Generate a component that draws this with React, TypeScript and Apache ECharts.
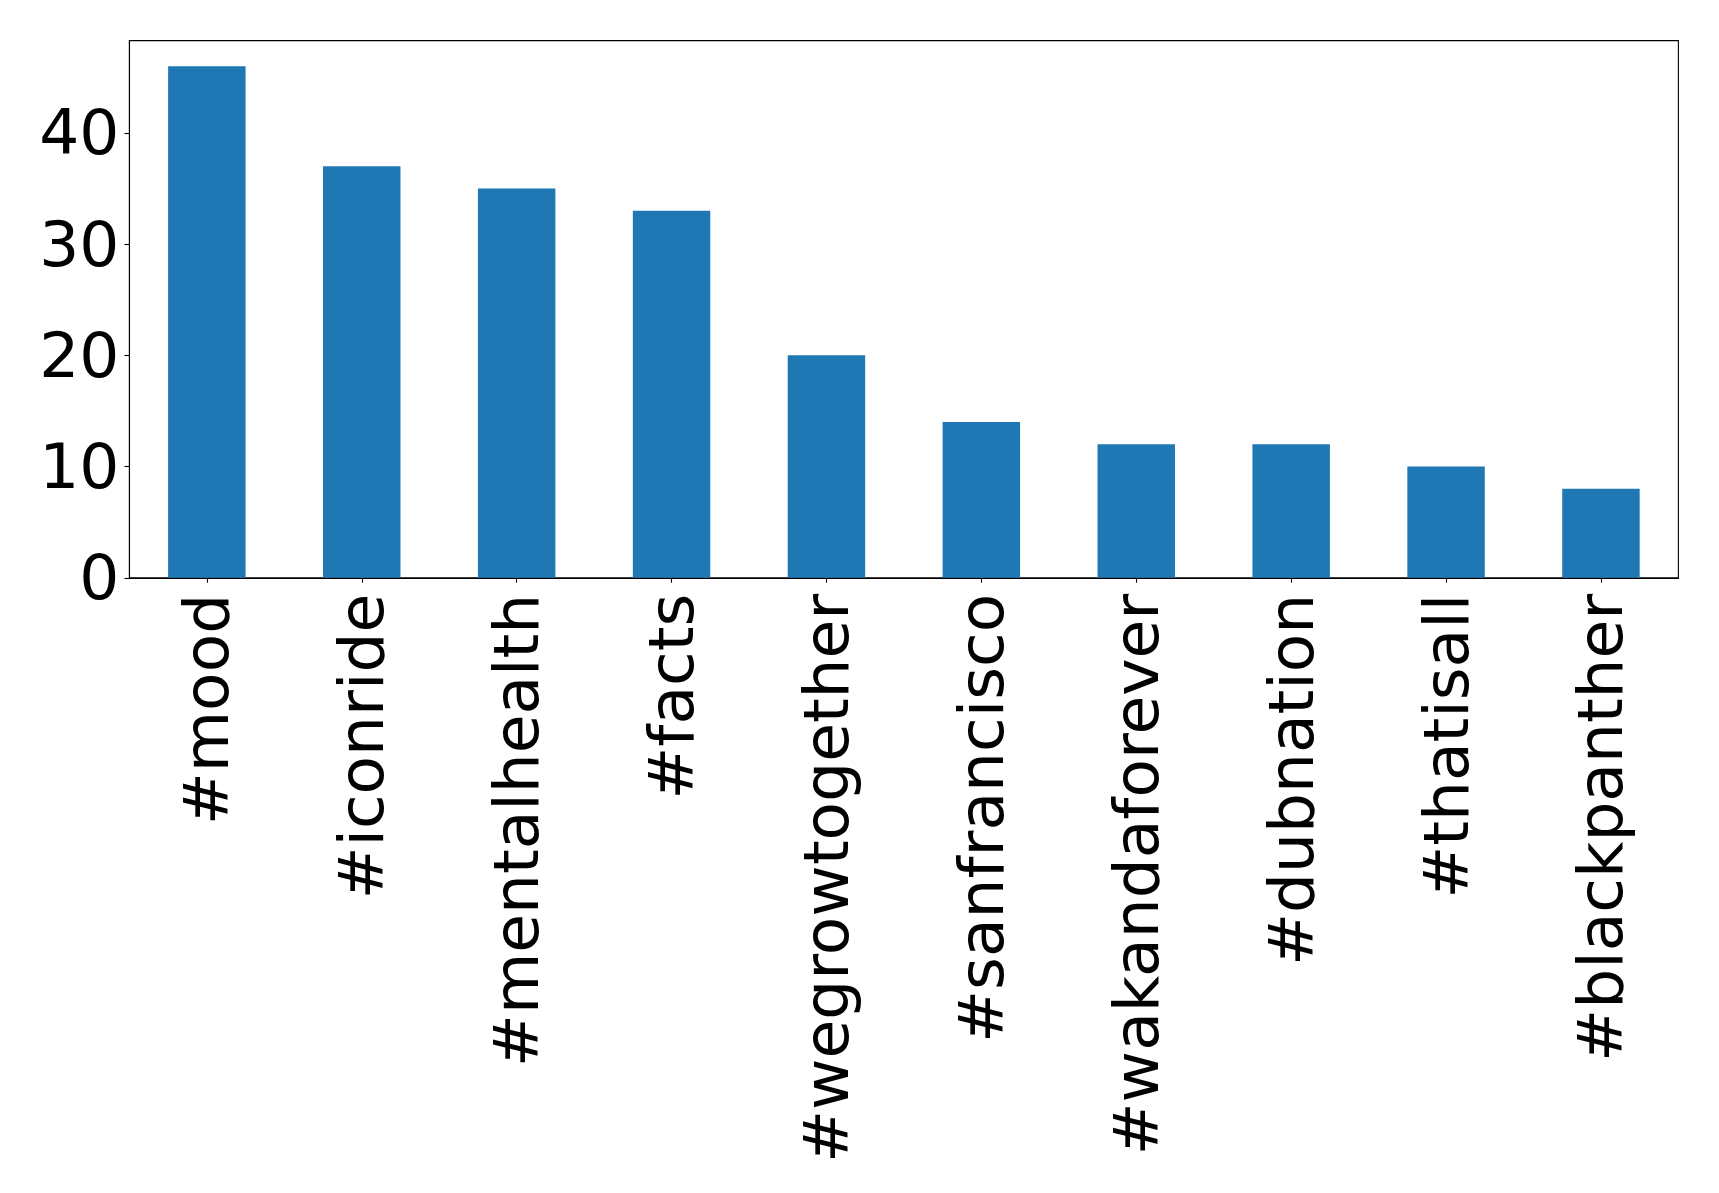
import React, { useEffect, useRef } from "react";
import * as echarts from "echarts";

const categories = [
  "#mood",
  "#iconride",
  "#mentalhealth",
  "#facts",
  "#wegrowtogether",
  "#sanfrancisco",
  "#wakandaforever",
  "#dubnation",
  "#thatisall",
  "#blackpanther",
];
const counts = [46, 37, 35, 33, 20, 14, 12, 12, 10, 8];
const yTicks = [0, 10, 20, 30, 40];
const yMax = 48.3;

const FONT = "DejaVu Sans";
const FS = 63;

export default function App() {
  const ref = useRef<HTMLDivElement>(null);
  useEffect(() => {
    document.body.style.margin = "0";
    const chart = echarts.init(ref.current!, undefined, { renderer: "svg" });
    chart.setOption({
      animation: false,
      backgroundColor: "#ffffff",
      grid: {
        left: 129.4,
        top: 40.6,
        right: 40.6,
        bottom: 615.2,
        show: true,
        borderColor: "#000000",
        borderWidth: 1.1,
        backgroundColor: "transparent",
      },
      xAxis: {
        type: "category",
        data: categories,
        boundaryGap: true,
        axisLine: { show: true, lineStyle: { color: "#000", width: 1.1 } },
        axisTick: {
          show: true,
          alignWithLabel: true,
          length: 4.9,
          lineStyle: { color: "#000", width: 1.1 },
        },
        axisLabel: {
          rotate: 90,
          interval: 0,
          margin: 16,
          color: "#000",
          fontFamily: FONT,
          fontSize: FS,
        },
        splitLine: { show: false },
      },
      yAxis: {
        type: "value",
        min: 0,
        max: yMax,
        interval: 10,
        axisLine: { show: true, lineStyle: { color: "#000", width: 1.1 } },
        axisTick: {
          show: true,
          length: 4.9,
          lineStyle: { color: "#000", width: 1.1 },
          customValues: yTicks,
        },
        axisLabel: {
          margin: 10,
          color: "#000",
          fontFamily: FONT,
          fontSize: FS,
          customValues: yTicks,
        },
        splitLine: { show: false },
      },
      series: [
        {
          type: "bar",
          data: counts,
          barWidth: "50%",
          itemStyle: { color: "#1f77b4" },
        },
      ],
    });
    return () => chart.dispose();
  }, []);
  return <div ref={ref} style={{ width: 1719, height: 1193 }} />;
}
